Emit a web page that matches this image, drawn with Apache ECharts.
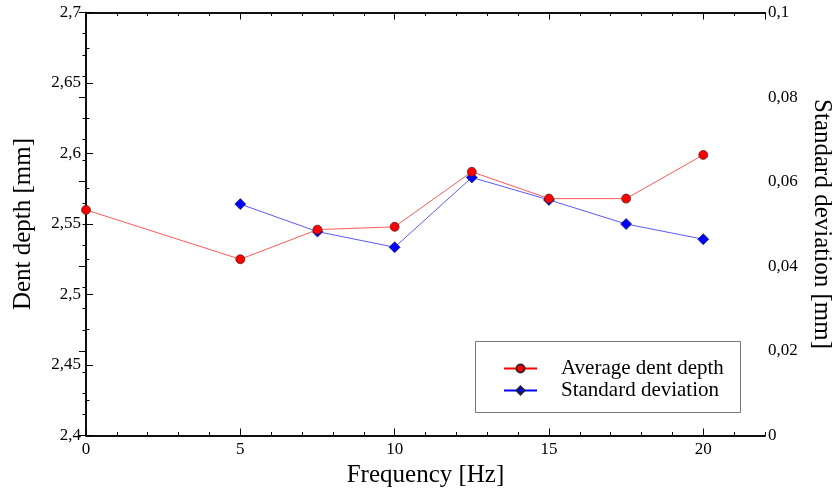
<!DOCTYPE html>
<html>
<head>
<meta charset="utf-8">
<script src="https://cdn.jsdelivr.net/npm/echarts@6/dist/echarts.min.js"></script>
<style>
  html, body { margin: 0; padding: 0; background: #fff; }
  #chart { width: 835px; height: 494px; }
</style>
</head>
<body>
<div id="chart"></div>
<script>
// Measured dent depth vs. loading frequency
const depthFreq = [0, 5, 7.5, 10, 12.5, 15, 17.5, 20];
const depthAvg = [2.560, 2.525, 2.546, 2.548, 2.587, 2.568, 2.568, 2.599];
const sdFreq = [5, 7.5, 10, 12.5, 15, 17.5, 20];
const sdValues = [0.0547, 0.0482, 0.0445, 0.0610, 0.0557, 0.0500, 0.0464];

const seriesNames = ['Average dent depth', 'Standard deviation'];
const xTitle = 'Frequency [Hz]';
const yLeftTitle = 'Dent depth [mm]';
const yRightTitle = 'Standard deviation [mm]';

const FONT = 'Liberation Serif, Times New Roman, serif';
const comma = v => String(+v.toFixed(4)).replace('.', ',');

const frameLine = { show: true, lineStyle: { color: '#000', width: 1.5 } };

function xAxisDef(position, major, withLabels) {
  return {
    type: 'value', position: position, min: 0, max: 22,
    interval: major ? 5 : 1,
    axisLine: frameLine,
    axisTick: { show: true, inside: true, length: major ? 7 : 3.5, lineStyle: { color: '#000', width: 1 } },
    axisLabel: withLabels ? {
      show: true, margin: 6, fontSize: 17, fontFamily: FONT, color: '#000',
      showMaxLabel: false, formatter: v => (v % 5 === 0 && v <= 20) ? comma(v) : ''
    } : { show: false },
    splitLine: { show: false },
    name: withLabels ? xTitle : '',
    nameLocation: 'middle', nameGap: 25,
    nameTextStyle: { fontSize: 25, fontFamily: FONT, color: '#000' }
  };
}

const chart = echarts.init(document.getElementById('chart'), null, { renderer: 'canvas' });

chart.setOption({
  animation: false,
  backgroundColor: '#fff',
  grid: { left: 86, right: 70, top: 12.5, bottom: 58.5, containLabel: false, outerBoundsMode: 'none' },
  xAxis: [
    xAxisDef('bottom', true, true),
    xAxisDef('bottom', false, false),
    xAxisDef('top', true, false),
    xAxisDef('top', false, false)
  ],
  yAxis: [
    {
      type: 'value', position: 'left', min: 2.4, max: 2.7, interval: 0.05,
      axisLine: frameLine,
      axisTick: { show: true, inside: true, length: 7, lineStyle: { color: '#000', width: 1 } },
      minorTick: { show: true, splitNumber: 2, length: 3.5, lineStyle: { color: '#000', width: 1 } },
      axisLabel: { margin: 5, fontSize: 17, fontFamily: FONT, color: '#000', formatter: comma },
      splitLine: { show: false },
      name: yLeftTitle, nameLocation: 'middle', nameGap: 50,
      nameTextStyle: { fontSize: 25, fontFamily: FONT, color: '#000' }
    },
    {
      type: 'value', position: 'right', min: 0, max: 0.1, interval: 0.02,
      axisLine: frameLine,
      axisTick: { show: true, inside: true, length: 7, lineStyle: { color: '#000', width: 1 } },
      minorTick: { show: true, splitNumber: 4, length: 3.5, lineStyle: { color: '#000', width: 1 } },
      axisLabel: { margin: 3, fontSize: 17, fontFamily: FONT, color: '#000', formatter: comma },
      splitLine: { show: false },
      name: yRightTitle, nameLocation: 'middle', nameGap: 44, nameRotate: -90,
      nameTextStyle: { fontSize: 25, fontFamily: FONT, color: '#000' }
    }
  ],
  legend: {
    orient: 'vertical', left: 498, top: 353, z: 20,
    itemWidth: 33, itemHeight: 10, itemGap: 1,
    textStyle: { fontSize: 21, fontFamily: FONT, color: '#000', padding: [0, 0, 0, 19] },
    data: [
      { name: seriesNames[0], lineStyle: { color: '#ff0000' } },
      { name: seriesNames[1], lineStyle: { color: '#0000ff' } }
    ]
  },
  graphic: [{
    type: 'rect', z: 10, silent: true,
    shape: { x: 475.5, y: 341.5, width: 265, height: 71 },
    style: { fill: '#fff', stroke: '#777', lineWidth: 1 }
  }],
  series: [
    {
      name: seriesNames[0], type: 'line', xAxisIndex: 0, yAxisIndex: 0, z: 3,
      data: depthFreq.map((f, i) => [f, depthAvg[i]]),
      symbol: 'circle', symbolSize: 9,
      lineStyle: { color: '#ff5a5a', width: 1 },
      itemStyle: { color: '#ff0000', borderColor: '#402020', borderWidth: 0.7 }
    },
    {
      name: seriesNames[1], type: 'line', xAxisIndex: 0, yAxisIndex: 1, z: 2,
      data: sdFreq.map((f, i) => [f, sdValues[i]]),
      symbol: 'diamond', symbolSize: 11,
      lineStyle: { color: '#5a5aff', width: 1 },
      itemStyle: { color: '#0000ff', borderColor: '#202040', borderWidth: 0.7 }
    }
  ]
});
</script>
</body>
</html>
